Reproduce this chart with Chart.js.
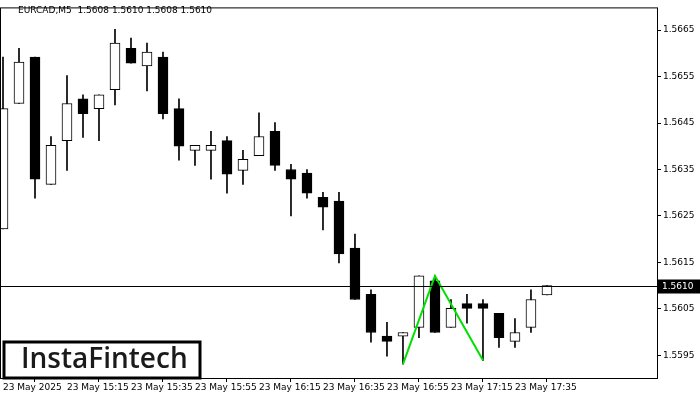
<!DOCTYPE html>
<html>
<head>
<meta charset="utf-8">
<script src="https://cdn.jsdelivr.net/npm/chart.js@4"></script>
<style>
  html, body { margin: 0; padding: 0; background: #fff; }
  #wrap { width: 700px; height: 400px; }
</style>
</head>
<body>
<div id="wrap"><canvas id="c"></canvas></div>
<script>
// EURCAD M5 candles
const opens  = [1.56222,1.56492,1.56592,1.56318,1.56412,1.56502,1.56481,1.56522,1.56611,1.56573,
                1.56592,1.56481,1.56391,1.56391,1.56412,1.56348,1.56380,1.56432,1.56350,1.56342,
                1.56290,1.56282,1.56181,1.56081,1.55991,1.55991,1.56010,1.56110,1.56010,1.56061,
                1.56061,1.56040,1.55980,1.56010,1.56080];
const highs  = [1.56592,1.56611,1.56592,1.56421,1.56552,1.56511,1.56511,1.56652,1.56633,1.56622,
                1.56603,1.56502,1.56402,1.56432,1.56421,1.56391,1.56472,1.56451,1.56361,1.56350,
                1.56301,1.56301,1.56211,1.56091,1.56021,1.55999,1.56121,1.56121,1.56070,1.56081,
                1.56070,1.56040,1.56029,1.56091,1.56100];
const lows   = [1.56222,1.56492,1.56288,1.56318,1.56348,1.56419,1.56412,1.56489,1.56579,1.56519,
                1.56459,1.56370,1.56359,1.56329,1.56299,1.56318,1.56380,1.56348,1.56250,1.56288,
                1.56220,1.56149,1.56070,1.55978,1.55948,1.55931,1.55988,1.55999,1.56010,1.56019,
                1.55939,1.55967,1.55967,1.55999,1.56080];
const closes = [1.56481,1.56581,1.56329,1.56402,1.56492,1.56470,1.56511,1.56622,1.56579,1.56603,
                1.56470,1.56400,1.56402,1.56402,1.56340,1.56372,1.56421,1.56359,1.56329,1.56299,
                1.56269,1.56168,1.56070,1.55999,1.55980,1.55999,1.56121,1.55999,1.56051,1.56051,
                1.56051,1.55988,1.55999,1.56070,1.56100];
// pattern line: low - high - low
const patternIdx = [25, 27, 30];
const patternVals = [1.55931, 1.56121, 1.55939];
const timeLabels = ["23 May 2025","23 May 15:15","23 May 15:35","23 May 15:55","23 May 16:15",
                    "23 May 16:35","23 May 16:55","23 May 17:15","23 May 17:35"];
const priceTicks = [1.5595,1.5605,1.5615,1.5625,1.5635,1.5645,1.5655,1.5665];
const lastPrice = 1.5610;
const header = "EURCAD,M5  1.5608 1.5610 1.5608 1.5610";

const wicks = opens.map((o, i) => ({ x: i, y: [lows[i], highs[i]] }));
const bodies = opens.map((o, i) => ({ x: i, y: [o, closes[i]] }));
const bodyColors = opens.map((o, i) => closes[i] >= o ? "#ffffff" : "#000000");
const pattern = patternIdx.map((x, i) => ({ x, y: patternVals[i] }));

const overlay = {
  id: "overlay",
  afterDraw(chart) {
    const { ctx, chartArea: a, scales } = chart;
    ctx.save();
    // last price line
    const py = Math.round(scales.y.getPixelForValue(lastPrice)) + 0.5;
    ctx.strokeStyle = "#000"; ctx.lineWidth = 1;
    ctx.beginPath(); ctx.moveTo(a.left, py); ctx.lineTo(a.right, py); ctx.stroke();
    // frame
    ctx.strokeRect(a.left + 0.5, a.top + 0.5, a.right - a.left - 1, a.bottom - a.top);
    // price label
    ctx.fillStyle = "#000";
    ctx.fillRect(a.right, py - 7, 42, 14);
    ctx.fillStyle = "#fff"; ctx.font = "9px 'DejaVu Sans'";
    ctx.textBaseline = "middle"; ctx.textAlign = "left";
    ctx.fillText(lastPrice.toFixed(4), a.right + 4, py);
    // header
    ctx.fillStyle = "#000";
    ctx.fillText(header, 18, 11);
    // logo
    ctx.fillStyle = "#fff";
    ctx.fillRect(3, 341, 198, 37);
    ctx.lineWidth = 3;
    ctx.strokeRect(4, 342, 196, 36);
    ctx.fillStyle = "#1a1a1a";
    ctx.font = "600 28px 'Open Sans'";
    ctx.fillText("InstaFintech", 21, 360);
    ctx.restore();
  }
};

new Chart(document.getElementById("c"), {
  data: {
    datasets: [
      { type: "line", data: pattern, borderColor: "#00e000", borderWidth: 2,
        pointRadius: 0, tension: 0, order: 0 },
      { type: "bar", data: bodies, backgroundColor: bodyColors, borderColor: "#000",
        borderWidth: 1, borderSkipped: false, barThickness: 10, grouped: false, order: 1 },
      { type: "bar", data: wicks, backgroundColor: "#000", borderWidth: 0,
        barThickness: 1, grouped: false, order: 2 }
    ]
  },
  options: {
    responsive: true,
    maintainAspectRatio: false,
    animation: false,
    layout: { padding: { top: 5, left: 0, right: 0 } },
    plugins: { legend: { display: false }, tooltip: { enabled: false } },
    scales: {
      x: {
        type: "linear", min: -0.1875, max: 40.94, offset: false,
        grid: { display: true, drawOnChartArea: false, tickLength: 4, color: "#000" },
        border: { display: false },
        afterBuildTicks(s) { s.ticks = timeLabels.map((t, i) => ({ value: i * 4 })); },
        afterFit(s) { s.height = 22; },
        ticks: {
          color: "#000", font: { family: "DejaVu Sans", size: 9 },
          maxRotation: 0, autoSkip: false, align: "start", padding: 0,
          callback: (v) => timeLabels[v / 4]
        }
      },
      y: {
        position: "right", min: 1.55901, max: 1.56699,
        grid: { display: true, drawOnChartArea: false, tickLength: 3, color: "#000" },
        border: { display: false },
        afterBuildTicks(s) { s.ticks = priceTicks.map(v => ({ value: v })); },
        afterFit(s) { s.width = 42; },
        ticks: {
          color: "#000", font: { family: "DejaVu Sans", size: 9 }, padding: 2,
          callback: (v) => v.toFixed(4)
        }
      }
    }
  },
  plugins: [overlay]
});
</script>
</body>
</html>
